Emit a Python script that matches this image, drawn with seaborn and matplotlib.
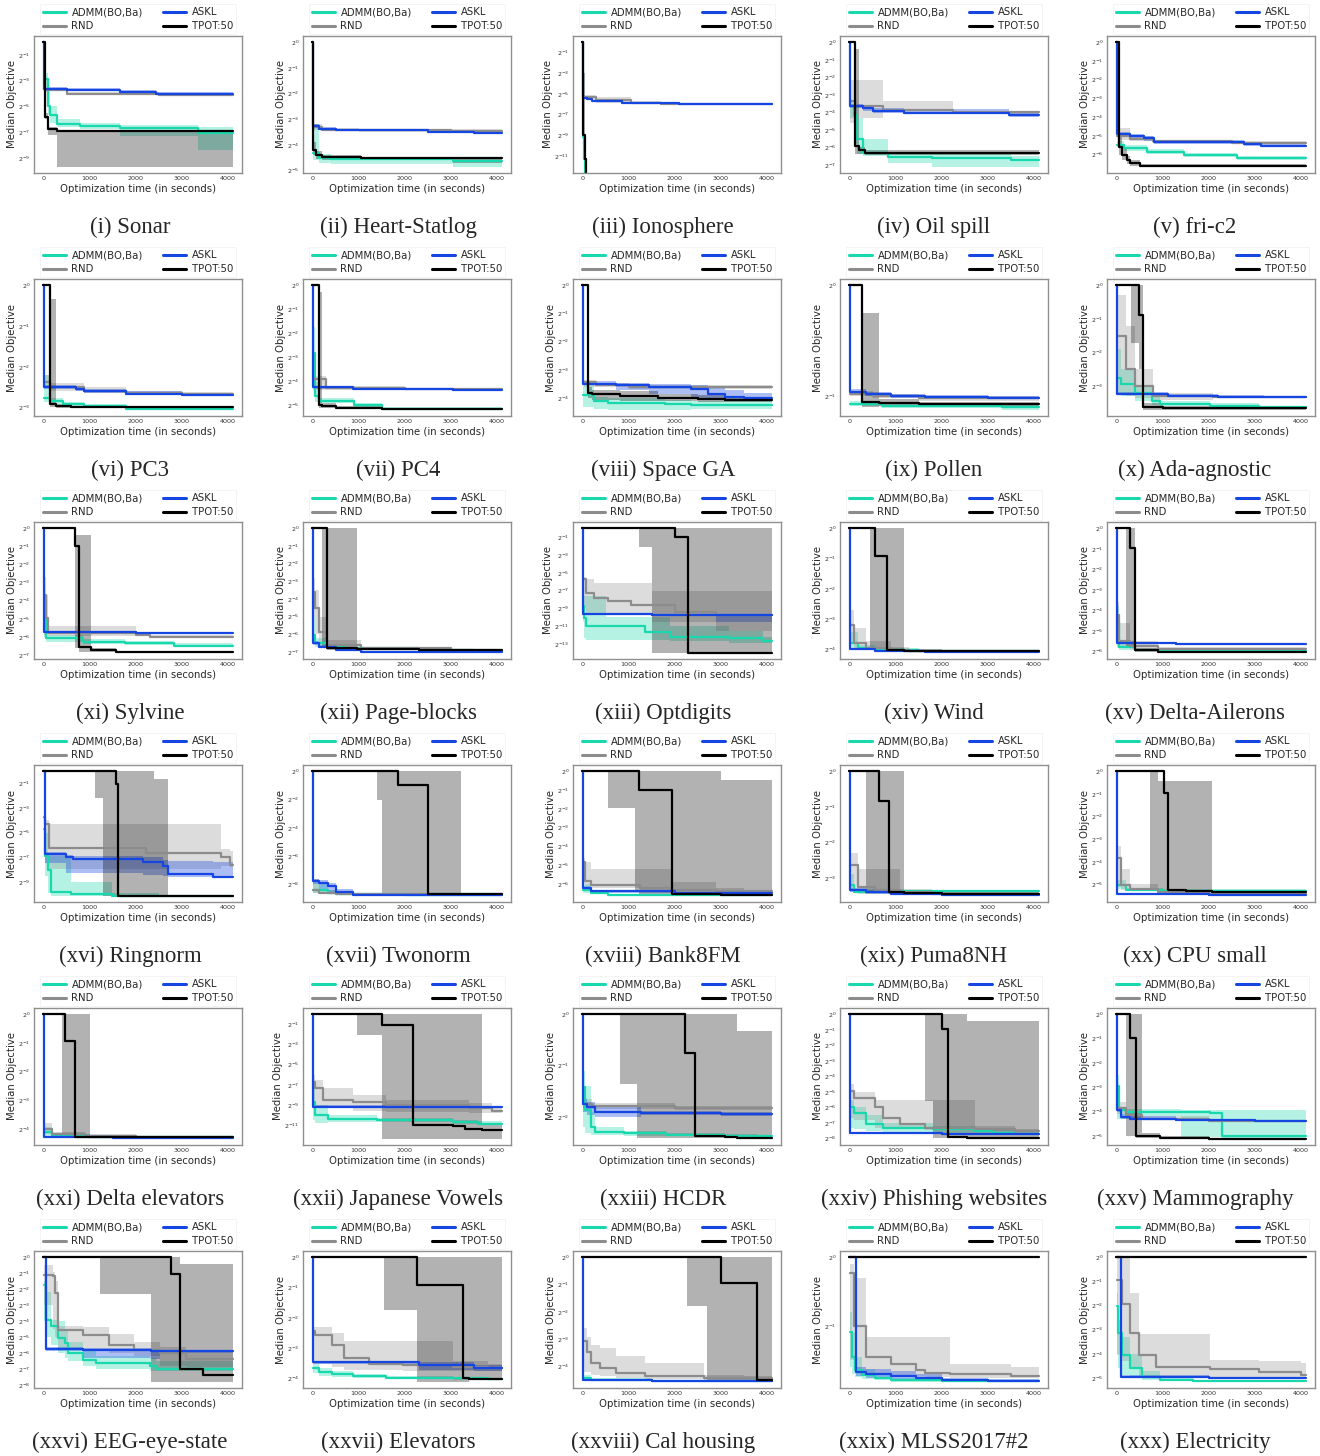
import numpy as np
import matplotlib
matplotlib.use("Agg")
import matplotlib.pyplot as plt
from matplotlib.lines import Line2D
from matplotlib.ticker import FixedLocator, FixedFormatter, NullLocator
import seaborn as sns

# ---------------------------------------------------------------------------
# Data: each series is a list of change points [time_s, median, lo, hi]
# (values are log2 of the objective; a 2-element row means no band).
# PERFECT marks an objective of 0 (drawn below the visible range).
# ---------------------------------------------------------------------------
END = 4100
PERFECT = -40
SERIES = ["ADMM(BO,Ba)", "RND", "ASKL", "TPOT:50"]

CAPTIONS = ["(i) Sonar", "(ii) Heart-Statlog", "(iii) Ionosphere", "(iv) Oil spill", "(v) fri-c2",
            "(vi) PC3", "(vii) PC4", "(viii) Space GA", "(ix) Pollen", "(x) Ada-agnostic",
            "(xi) Sylvine", "(xii) Page-blocks", "(xiii) Optdigits", "(xiv) Wind", "(xv) Delta-Ailerons",
            "(xvi) Ringnorm", "(xvii) Twonorm", "(xviii) Bank8FM", "(xix) Puma8NH", "(xx) CPU small",
            "(xxi) Delta elevators", "(xxii) Japanese Vowels", "(xxiii) HCDR", "(xxiv) Phishing websites",
            "(xxv) Mammography", "(xxvi) EEG-eye-state", "(xxvii) Elevators", "(xxviii) Cal housing",
            "(xxix) MLSS2017#2", "(xxx) Electricity"]

Y_TICK_EXPONENTS = [
    [-1, -3, -5, -7, -9], [0, -1, -2, -3, -4, -5], [-1, -3, -5, -7, -9, -11], [0, -1, -2, -3, -4, -5, -6, -7], [0, -1, -2, -3, -4, -5, -6],
    [0, -1, -2, -3], [0, -1, -2, -3, -4, -5], [0, -1, -2, -3, -4], [0, -1], [0, -1, -2, -3],
    [0, -1, -2, -3, -4, -5, -6, -7], [0, -1, -2, -3, -4, -5, -6, -7], [-1, -3, -5, -7, -9, -11, -13], [0, -1, -2, -3, -4], [0, -1, -2, -3, -4, -5, -6],
    [-1, -3, -5, -7, -9], [0, -2, -4, -6, -8], [0, -1, -2, -3, -4, -5, -6], [0, -1, -2, -3], [0, -1, -2, -3, -4, -5],
    [0, -1, -2, -3, -4], [-1, -3, -5, -7, -9, -11], [0, -1, -2], [0, -1, -2, -3, -4, -5, -6, -7, -8], [0, -1, -2, -3, -4, -5],
    [0, -1, -2, -3, -4, -5, -6, -7, -8], [0, -1, -2, -3, -4], [0, -1, -2, -3, -4], [0, -1], [0, -1, -2, -3, -4, -5],
]

# (i) Sonar
SONAR_ADMM = [[40, -2.85, -3.5, -2.4], [90, -5.0, -5.7, -3.5], [140, -5.7, -6.3, -5.0], [300, -6.35, -6.6, -6.0],
              [800, -6.55, -6.75, -6.3], [1650, -6.7, -7.3, -6.45], [3350, -7.1, -8.4, -6.6]]
SONAR_RND = [[40, -3.7, -3.8, -3.55], [500, -4.0, -4.1, -3.85], [2500, -4.1, -4.2, -3.95]]
SONAR_ASKL = [[0, 0], [5, -3.62, -3.72, -3.5], [500, -3.72, -3.82, -3.6], [1650, -3.85, -3.95, -3.72], [2450, -4.0, -4.1, -3.85]]
SONAR_TPOT = [[0, 0], [40, -5.85, -6.0, -5.5], [100, -6.75, -7.2, -6.6], [300, -6.9, -9.7, -6.8]]
# (ii) Heart-Statlog
HEART_ADMM = [[20, -4.3, -4.6, -3.2], [150, -4.5, -4.7, -4.35], [400, -4.55, -4.75, -4.45], [3050, -4.62, -4.85, -4.5]]
HEART_RND = [[15, -3.3, -3.4, -3.2], [200, -3.4, -3.45, -3.33], [1000, -3.42, -3.48, -3.36], [3000, -3.45, -3.5, -3.38]]
HEART_ASKL = [[0, 0], [10, -3.28, -3.35, -3.2], [150, -3.37, -3.42, -3.3], [500, -3.43, -3.47, -3.38], [2500, -3.48, -3.52, -3.43], [3500, -3.52, -3.55, -3.47]]
HEART_TPOT = [[0, 0], [20, -4.2, -4.4, -3.9], [80, -4.4, -4.55, -4.25], [200, -4.47, -4.6, -4.4], [1050, -4.5, -4.55, -4.45], [3050, -4.5, -4.7, -4.45]]
# (iii) Ionosphere
IONO_ADMM = [[5, -9.2, -10.0, -8.5], [25, -11.3, -12.05, -9.5], [55, PERFECT]]
IONO_RND = [[10, -5.3, -5.5, -5.1], [300, -5.6, -5.9, -5.3], [1050, -5.85, -6.0, -5.7], [1700, -5.97, -6.05, -5.9]]
IONO_ASKL = [[0, 0], [5, -5.37, -5.5, -5.25], [100, -5.5, -5.6, -5.4], [200, -5.65, -5.75, -5.55], [850, -5.84, -5.95, -5.75], [2100, -5.97, -6.05, -5.9]]
IONO_TPOT = [[0, 0], [20, -9.0, -10.0, -3.0], [50, -11.3, -12.05, -9.0], [80, PERFECT]]
# (iv) Oil spill
OIL_ADMM = [[20, -3.65, -4.3, -3.3], [90, -4.15, -5.8, -3.6], [160, -5.5, -6.4, -4.3], [300, -6.3, -6.5, -5.5],
            [830, -6.55, -6.9, -6.35], [1800, -6.6, -7.1, -6.4], [3500, -6.7, -7.1, -6.5]]
OIL_RND = [[20, -3.37, -4.6, -2.13], [150, -3.66, -4.3, -2.13], [730, -3.85, -3.94, -3.37], [2250, -4.0, -4.08, -3.9]]
OIL_ASKL = [[0, 0], [5, -3.62, -3.75, -3.5], [300, -3.75, -3.9, -3.6], [500, -3.94, -4.05, -3.75], [1190, -4.04, -4.12, -3.8], [3450, -4.17, -4.25, -4.05]]
OIL_TPOT = [[0, 0], [127, -5.94, -6.4, -0.4], [200, -6.13, -6.4, -6.0], [340, -6.29, -6.45, -6.15]]
# (v) fri-c2
FRI_ADMM = [[10, -5.48, -5.6, -5.3], [160, -5.66, -5.8, -5.5], [670, -5.84, -5.95, -5.7], [1460, -6.02, -6.12, -5.9], [2620, -6.2, -6.28, -6.08]]
FRI_RND = [[10, -5.0, -5.2, -4.6], [300, -5.15, -5.3, -5.0], [800, -5.3, -5.4, -5.2], [2500, -5.4, -5.45, -5.3]]
FRI_ASKL = [[0, 0], [10, -4.89, -5.0, -4.8], [300, -5.0, -5.15, -4.9], [600, -5.13, -5.3, -5.0], [810, -5.34, -5.45, -5.2],
            [2770, -5.45, -5.55, -5.35], [3130, -5.54, -5.6, -5.45]]
FRI_TPOT = [[0, 0], [50, -5.57, -6.0, -5.0], [120, -6.0, -6.3, -5.7], [230, -6.29, -6.5, -6.1], [300, -6.46, -6.62, -6.3], [520, -6.6, -6.65, -6.5]]
# (vi) PC3
PC3_ADMM = [[20, -2.75, -2.85, -2.2], [150, -2.83, -2.9, -2.75], [420, -2.91, -2.95, -2.87], [870, -2.95, -3.0, -2.92], [1780, -3.03, -3.05, -3.0]]
PC3_RND = [[20, -2.38, -2.5, -2.2], [150, -2.5, -2.58, -2.4], [870, -2.58, -2.64, -2.5], [1780, -2.64, -2.68, -2.58], [3000, -2.66, -2.7, -2.62]]
PC3_ASKL = [[0, 0], [10, -2.5, -2.55, -2.45], [700, -2.54, -2.6, -2.48], [870, -2.6, -2.65, -2.55], [1780, -2.66, -2.7, -2.6], [3000, -2.69, -2.72, -2.64]]
PC3_TPOT = [[0, 0], [150, -2.91, -2.98, -0.33], [280, -2.95, -3.0, -2.9], [600, -2.98, -3.01, -2.95]]
# (vii) PC4
PC4_ADMM = [[20, -2.8, -4.0, -1.75], [60, -4.6, -4.85, -4.0], [150, -4.8, -4.9, -4.7], [900, -4.97, -5.05, -4.9], [1500, -5.12, -5.16, -5.05]]
PC4_RND = [[20, -3.9, -4.35, -3.75], [300, -4.27, -4.33, -4.2], [2000, -4.3, -4.35, -4.25]]
PC4_ASKL = [[0, 0], [15, -4.24, -4.3, -4.18], [870, -4.31, -4.36, -4.26], [3050, -4.36, -4.4, -4.3]]
PC4_TPOT = [[0, 0], [150, -4.97, -5.1, -0.3], [200, -5.0, -5.1, -4.9], [500, -5.1, -5.15, -5.0], [1500, -5.15, -5.17, -5.1]]
# (viii) Space GA
SPACE_ADMM = [[20, -3.9, -4.3, -3.5], [250, -4.1, -4.4, -3.95], [550, -4.16, -4.41, -4.0], [1800, -4.2, -4.41, -4.05], [2360, -4.24, -4.4, -4.1]]
SPACE_RND = [[30, -3.43, -3.6, -3.35], [300, -3.55, -3.62, -3.45], [1000, -3.6, -3.66, -3.55]]
SPACE_ASKL = [[0, 0], [10, -3.49, -3.55, -3.4], [730, -3.55, -3.7, -3.45], [1450, -3.61, -3.85, -3.5], [2360, -3.67, -4.0, -3.55],
              [2730, -3.86, -4.05, -3.6], [3090, -3.95, -4.05, -3.7], [3500, -4.0, -4.05, -3.8]]
SPACE_TPOT = [[0, 0], [130, -3.8, -4.0, -3.6], [200, -3.86, -4.05, -3.7], [820, -3.92, -4.1, -3.75], [1640, -3.98, -4.1, -3.85],
              [2500, -4.04, -4.12, -3.9], [3100, -4.07, -4.15, -3.95]]
# (ix) Pollen
POLLEN_ADMM = [[10, -1.07, -1.09, -1.04], [700, -1.09, -1.11, -1.07], [3300, -1.1, -1.123, -1.08]]
POLLEN_RND = [[10, -0.98, -1.0, -0.95], [500, -1.0, -1.02, -0.98], [1500, -1.02, -1.04, -1.0]]
POLLEN_ASKL = [[0, 0], [5, -0.96, -0.98, -0.94], [360, -0.98, -1.0, -0.96], [900, -1.0, -1.02, -0.98], [1640, -1.01, -1.03, -0.99], [3000, -1.02, -1.03, -1.0]]
POLLEN_TPOT = [[0, 0], [270, -1.05, -1.1, -0.25], [640, -1.06, -1.09, -1.03], [1500, -1.07, -1.09, -1.05]]
# (x) Ada-agnostic
ADA_ADMM = [[10, -2.75, -3.2, -1.9], [100, -2.94, -3.3, -2.5], [400, -3.19, -3.45, -3.0], [760, -3.43, -3.55, -3.3],
            [950, -3.53, -3.6, -3.45], [2020, -3.58, -3.63, -3.5], [3100, -3.63, -3.66, -3.58]]
ADA_RND = [[10, -1.5, -3.2, -0.3], [200, -2.5, -3.3, -1.2], [400, -3.0, -3.35, -2.5], [800, -3.3, -3.4, -3.2], [2100, -3.33, -3.36, -3.3]]
ADA_ASKL = [[0, 0], [5, -3.22, -3.26, -3.18], [1120, -3.28, -3.32, -3.24], [2200, -3.31, -3.35, -3.27], [3200, -3.33, -3.36, -3.3]]
ADA_TPOT = [[0, 0], [310, 0, -1.72, 0], [490, -0.88, -2.5, 0], [580, -3.63, -3.7, -3.5], [1000, -3.65, -3.7, -3.6]]
# (xi) Sylvine
SYL_ADMM = [[20, -4.8, -6.0, -3.8], [60, -6.08, -6.25, -5.9], [860, -6.26, -6.4, -6.1], [1760, -6.35, -6.45, -6.2], [2840, -6.5, -6.55, -6.35]]
SYL_RND = [[20, -3.68, -5.9, -2.7], [60, -4.97, -5.9, -3.7], [100, -5.8, -5.95, -5.4], [2000, -5.9, -5.95, -5.8], [2300, -6.0, -6.05, -5.9]]
SYL_ASKL = [[0, 0], [5, -5.75, -5.8, -5.7], [2000, -5.78, -5.82, -5.74], [3500, -5.8, -5.83, -5.76]]
SYL_TPOT = [[0, 0], [680, -1.0, -6.6, -0.37], [770, -6.55, -6.8, -0.37], [1040, -6.7, -6.82, -6.6], [1580, -6.81, -6.84, -6.75], [2500, -6.85, -6.87, -6.8]]
# (xii) Page-blocks
PAGE_ADMM = [[10, -6.05, -6.5, -5.0], [60, -6.52, -6.7, -6.2], [325, -6.71, -6.85, -6.6], [700, -6.8, -6.9, -6.7], [2300, -6.9, -6.95, -6.85], [3500, -6.96, -7.0, -6.9]]
PAGE_RND = [[10, -3.6, -5.0, -2.8], [60, -4.5, -6.0, -3.5], [150, -5.86, -6.6, -5.0], [325, -6.62, -6.8, -6.3], [1050, -6.8, -6.9, -6.7], [3000, -6.9, -6.95, -6.85]]
PAGE_ASKL = [[0, 0], [5, -6.52, -6.6, -6.4], [150, -6.71, -6.8, -6.6], [500, -6.9, -6.95, -6.8], [1050, -7.0, -7.03, -6.95], [3000, -7.03, -7.05, -7.0]]
PAGE_TPOT = [[0, 0], [200, 0, -6.8, 0], [325, -6.8, -6.9, 0], [960, -6.84, -6.9, -6.75], [2300, -6.9, -6.93, -6.85]]
# (xiii) Optdigits
OPT_ADMM = [[5, -8.75, -10.5, -7.0], [40, -10.1, -12.3, -7.6], [70, -11.0, -12.55, -7.6], [520, -11.0, -12.55, -9.9], [1350, -11.6, -12.55, -9.9],
            [1900, -12.2, -12.6, -11.0], [3180, -12.3, -12.8, -11.5], [3910, -12.6, -12.8, -12.2]]
OPT_RND = [[35, -5.73, -9.1, -5.5], [70, -7.25, -9.7, -5.7], [250, -7.8, -9.7, -6.1], [550, -8.1, -9.7, -6.1], [1060, -8.6, -9.7, -6.1],
           [1500, -8.6, -10.47, -7.06], [2010, -9.4, -10.47, -7.06], [2890, -9.7, -11.5, -7.06]]
OPT_ASKL = [[0, 0], [10, -9.64, -9.75, -9.5], [1500, -9.7, -9.8, -9.6], [2900, -9.7, -10.47, -9.6]]
OPT_TPOT = [[0, 0], [1230, 0, -2.06, 0], [1500, 0, -13.95, 0], [2010, -1.0, -13.95, 0], [2280, -13.95, -13.95, 0]]
# (xiv) Wind
WIND_ADMM = [[10, -3.78, -3.95, -3.4], [180, -3.94, -4.0, -3.85], [545, -4.0, -4.04, -3.95], [1500, -4.05, -4.08, -4.0]]
WIND_RND = [[10, -3.2, -3.8, -2.7], [90, -3.78, -3.95, -3.3], [360, -3.94, -4.0, -3.7], [900, -4.0, -4.04, -3.9], [1300, -4.04, -4.06, -4.0]]
WIND_ASKL = [[0, 0], [5, -3.98, -4.02, -3.94], [545, -4.03, -4.06, -4.0], [1640, -4.09, -4.1, -4.05]]
WIND_TPOT = [[0, 0], [450, 0, -4.0, 0], [545, -0.91, -4.0, 0], [820, -4.0, -4.05, 0], [1180, -4.03, -4.06, -3.98], [2000, -4.05, -4.07, -4.0]]
# (xv) Delta-Ailerons
DAIL_ADMM = [[10, -4.54, -5.8, -3.8], [60, -5.75, -5.9, -5.5], [400, -5.92, -5.97, -5.85], [1300, -5.97, -6.0, -5.93]]
DAIL_RND = [[10, -4.2, -5.6, -3.6], [60, -5.5, -5.8, -4.6], [300, -5.7, -5.85, -5.5], [900, -5.85, -5.9, -5.75]]
DAIL_ASKL = [[0, 0], [5, -5.56, -5.6, -5.52], [1300, -5.6, -5.63, -5.56], [3000, -5.62, -5.65, -5.58]]
DAIL_TPOT = [[0, 0], [200, 0, -5.84, 0], [300, -0.97, -5.84, 0], [400, -5.92, -6.0, -5.8], [900, -6.0, -6.03, -5.95], [2000, -6.03, -6.05, -6.0]]
# (xvi) Ringnorm
RING_ADMM = [[5, -4.7, -7.0, -3.5], [40, -6.9, -8.5, -5.0], [100, -8.0, -9.9, -6.9], [170, -9.86, -10.13, -6.9],
             [590, -10.0, -10.13, -9.05], [1480, -10.13, -10.13, -9.9], [2500, -10.13]]
RING_RND = [[5, -3.76, -6.0, -3.5], [40, -4.3, -7.5, -4.0], [130, -6.28, -7.96, -4.3], [2230, -6.66, -7.96, -4.3],
            [3860, -7.0, -7.7, -6.3], [4050, -7.64, -7.8, -6.5]]
RING_ASKL = [[0, 0], [40, -6.75, -7.5, -6.6], [490, -7.0, -8.3, -6.8], [640, -7.15, -8.3, -6.9], [2150, -7.42, -8.4, -7.0],
             [2590, -7.7, -8.5, -7.2], [2700, -8.37, -8.6, -7.3], [3670, -8.64, -8.7, -7.4]]
RING_TPOT = [[0, 0], [1110, 0, -2.14, 0], [1290, 0, -10.13, 0], [1580, -1.05, -10.13, 0], [1620, -10.13, -10.13, 0],
             [2390, -10.13, -10.13, -0.65], [2700, -10.13]]
# (xvii) Twonorm
TWO_ADMM = [[10, -8.37, -8.6, -7.8], [330, -8.6, -8.7, -8.4], [500, -8.68, -8.73, -8.6], [2000, -8.73, -8.76, -8.7]]
TWO_RND = [[10, -8.37, -8.6, -7.6], [150, -8.6, -8.7, -8.4], [500, -8.68, -8.72, -8.62]]
TWO_ASKL = [[0, 0], [5, -7.78, -8.0, -7.6], [150, -7.9, -8.3, -7.7], [330, -8.14, -8.5, -7.9], [500, -8.5, -8.7, -8.3],
            [870, -8.73, -8.76, -8.7], [2000, -8.77, -8.8, -8.74]]
TWO_TPOT = [[0, 0], [1400, 0, -2.0, 0], [1500, 0, -8.7, 0], [1865, -1.0, -8.7, 0], [2500, -8.68, -8.7, 0], [3220, -8.68]]
# (xviii) Bank8FM
BANK_ADMM = [[10, -6.3, -6.45, -6.0], [180, -6.48, -6.55, -6.4], [550, -6.57, -6.6, -6.5], [2000, -6.6, -6.62, -6.57]]
BANK_RND = [[10, -4.8, -6.0, -4.6], [60, -5.86, -6.1, -4.8], [180, -6.04, -6.2, -5.2], [1250, -6.2, -6.35, -5.2],
            [1950, -6.3, -6.4, -5.9], [2900, -6.36, -6.45, -6.2], [3500, -6.39, -6.45, -6.3]]
BANK_ASKL = [[0, 0], [5, -6.2, -6.3, -6.1], [180, -6.39, -6.45, -6.3], [2000, -6.48, -6.52, -6.42]]
BANK_TPOT = [[0, 0], [550, 0, -1.95, 0], [1150, 0, -6.3, 0], [1220, -1.0, -6.5, 0], [1945, -6.53, -6.6, 0],
             [3000, -6.57, -6.6, -0.45], [3500, -6.6, -6.62, -0.45]]
# (xix) Puma8NH
PUMA_ADMM = [[10, -3.2, -3.38, -2.9], [90, -3.38, -3.42, -3.3], [1000, -3.37, -3.4, -3.33]]
PUMA_RND = [[10, -2.64, -3.3, -2.3], [180, -3.25, -3.44, -2.74], [550, -3.33, -3.44, -2.74], [1100, -3.4, -3.45, -3.3], [1800, -3.44, -3.46, -3.4]]
PUMA_ASKL = [[0, 0], [5, -3.33, -3.38, -3.28], [360, -3.4, -3.45, -3.35], [900, -3.45, -3.48, -3.4], [2000, -3.49, -3.5, -3.45]]
PUMA_TPOT = [[0, 0], [360, 0, -3.4, 0], [635, -0.85, -3.4, 0], [850, -3.4, -3.44, 0], [1180, -3.42, -3.45, -3.38], [2000, -3.44, -3.46, -3.4]]
# (xx) CPU small
CPU_ADMM = [[10, -5.03, -5.2, -4.8], [200, -5.25, -5.3, -5.15], [1000, -5.28, -5.32, -5.22]]
CPU_RND = [[10, -3.85, -5.1, -3.3], [90, -5.03, -5.25, -4.3], [300, -5.18, -5.3, -5.0], [900, -5.33, -5.38, -5.25], [2000, -5.4, -5.43, -5.35]]
CPU_ASKL = [[0, 0], [5, -5.44, -5.47, -5.4], [2000, -5.47, -5.5, -5.43]]
CPU_TPOT = [[0, 0], [720, 0, -5.3, 0], [900, 0, -5.3, -0.44], [1030, -0.96, -5.3, -0.44], [1120, -5.25, -5.3, -0.44],
            [1500, -5.3, -5.35, -0.44], [2080, -5.33, -5.36, -5.3]]
# (xxi) Delta elevators
DELV_ADMM = [[10, -4.13, -4.25, -3.95], [180, -4.24, -4.28, -4.18], [1000, -4.28, -4.3, -4.25]]
DELV_RND = [[10, -4.01, -4.2, -3.8], [180, -4.18, -4.25, -4.1], [900, -4.24, -4.28, -4.2], [2000, -4.28, -4.3, -4.25]]
DELV_ASKL = [[0, 0], [5, -4.28, -4.32, -4.24], [1500, -4.33, -4.35, -4.3]]
DELV_TPOT = [[0, 0], [410, 0, -4.28, 0], [470, -0.95, -4.28, 0], [680, -4.28, -4.3, 0], [1000, -4.28, -4.3, -4.25], [2000, -4.3, -4.32, -4.27]]
# (xxii) Japanese Vowels
JV_ADMM = [[10, -8.67, -10.5, -7.0], [50, -10.0, -10.8, -9.0], [330, -10.33, -10.7, -10.0], [1410, -10.5, -10.7, -10.3],
           [3040, -10.67, -10.85, -10.5], [3580, -10.83, -11.0, -10.6]]
JV_RND = [[10, -6.67, -9.0, -6.0], [60, -7.33, -9.3, -6.5], [235, -8.5, -9.3, -7.3], [870, -8.67, -9.6, -8.0],
          [1600, -9.0, -9.7, -8.5], [3400, -9.33, -9.8, -8.8], [3900, -9.6, -9.8, -9.2]]
JV_ASKL = [[0, 0], [5, -9.17, -9.3, -9.0], [2000, -9.17, -9.3, -9.05]]
JV_TPOT = [[0, 0], [960, 0, -2.07, 0], [1500, -1.07, -12.33, 0], [2170, -10.93, -12.33, 0], [3040, -11.07, -12.33, 0],
           [3310, -11.33, -12.33, 0], [3680, -11.43, -12.33, -10.9]]
# (xxiii) HCDR
HCDR_ADMM = [[10, -1.42, -2.2, -1.1], [50, -1.87, -2.3, -1.4], [180, -2.19, -2.35, -1.9], [270, -2.29, -2.35, -2.2],
             [900, -2.31, -2.36, -2.27], [1820, -2.34, -2.37, -2.3], [3100, -2.36, -2.38, -2.33], [3800, -2.37, -2.39, -2.35]]
HCDR_RND = [[10, -1.74, -1.85, -1.65], [200, -1.78, -1.85, -1.72], [2000, -1.82, -1.87, -1.78]]
HCDR_ASKL = [[0, 0], [5, -1.74, -1.9, -1.65], [100, -1.81, -1.95, -1.7], [270, -1.9, -2.0, -1.8], [1280, -1.92, -1.96, -1.88], [3000, -1.94, -1.97, -1.9]]
HCDR_TPOT = [[0, 0], [820, 0, -1.35, 0], [1180, 0, -2.4, 0], [2220, -0.75, -2.4, 0], [2450, -2.37, -2.4, 0],
             [3100, -2.38, -2.41, 0], [3360, -2.4, -2.42, -0.32]]
# (xxiv) Phishing websites
PHISH_ADMM = [[10, -6.0, -7.3, -5.5], [90, -6.34, -7.4, -6.0], [360, -7.1, -7.5, -6.5], [730, -7.31, -7.6, -7.0],
              [1820, -7.42, -7.62, -7.2], [2730, -7.5, -7.65, -7.3], [3100, -7.63, -7.7, -7.4], [3600, -7.74, -7.8, -7.5]]
PHISH_RND = [[10, -4.95, -6.67, -4.5], [90, -5.4, -6.8, -5.0], [550, -6.0, -7.3, -5.55], [730, -6.67, -7.31, -5.55],
             [1090, -7.1, -7.4, -5.55], [1640, -7.31, -7.45, -5.55], [2730, -7.42, -7.5, -7.2], [3600, -7.5, -7.55, -7.4]]
PHISH_ASKL = [[0, 0], [5, -7.63, -7.66, -7.6], [2000, -7.7, -7.73, -7.66]]
PHISH_TPOT = [[0, 0], [1640, 0, -5.6, 0], [1820, 0, -8.0, 0], [2000, -0.97, -8.0, 0], [2130, -7.91, -8.0, 0],
              [2540, -7.95, -8.0, -0.43], [3000, -8.0, -8.02, -0.43]]
# (xxv) Mammography
MAMMO_ADMM = [[10, -2.95, -4.3, -2.5], [60, -3.94, -4.3, -3.8], [200, -4.01, -4.2, -3.9], [1400, -4.01, -5.05, -3.95],
              [2020, -4.04, -5.05, -3.95], [2290, -5.0, -5.07, -3.95]]
MAMMO_RND = [[10, -3.87, -4.1, -3.6], [200, -4.15, -4.25, -4.0], [560, -4.3, -4.35, -4.2], [2000, -4.37, -4.4, -4.33]]
MAMMO_ASKL = [[0, 0], [5, -3.94, -4.0, -3.85], [100, -4.22, -4.3, -4.1], [300, -4.3, -4.35, -4.2], [1300, -4.35, -4.4, -4.3], [3000, -4.4, -4.43, -4.35]]
MAMMO_TPOT = [[0, 0], [200, 0, -5.0, 0], [300, -0.98, -5.0, 0], [430, -5.0, -5.07, 0], [560, -5.0, -5.07, -4.9],
              [940, -5.07, -5.1, -5.0], [2000, -5.11, -5.12, -5.07]]
# (xxvi) EEG-eye-state
EEG_ADMM = [[5, -1.73, -4.0, -1.5], [60, -3.92, -5.0, -2.2], [170, -4.33, -5.5, -3.9], [310, -5.06, -6.0, -4.0], [460, -5.38, -6.3, -4.5],
            [530, -6.0, -6.5, -5.3], [850, -6.42, -6.8, -5.8], [1140, -6.63, -7.0, -6.2], [2300, -6.83, -7.1, -6.3], [2450, -7.0, -7.15, -6.5]]
EEG_RND = [[5, -1.1, -3.0, -0.5], [200, -1.2, -4.5, -0.9], [240, -2.25, -5.0, -1.5], [310, -4.54, -5.8, -4.3], [850, -4.85, -5.9, -4.4],
           [1430, -5.48, -6.0, -4.8], [1970, -5.79, -6.2, -5.3], [2520, -6.0, -6.8, -5.6], [3100, -6.35, -6.9, -6.0]]
EEG_ASKL = [[0, 0], [50, -5.75, -5.85, -5.65], [850, -5.8, -6.3, -5.7], [2340, -5.85, -6.35, -5.75], [2520, -5.9, -6.0, -5.8]]
EEG_TPOT = [[0, 0], [1230, 0, -2.3, 0], [2340, 0, -7.8, 0], [2770, -1.04, -7.8, 0], [2950, -7.0, -7.8, -0.4], [3460, -7.4, -7.8, -0.4]]
# (xxvii) Elevators
ELEV_ADMM = [[10, -3.66, -3.8, -3.5], [150, -3.78, -3.9, -3.65], [420, -3.85, -3.95, -3.75], [870, -3.91, -3.98, -3.85],
             [1600, -3.97, -4.02, -3.9], [3050, -3.99, -4.03, -3.94], [3800, -4.02, -4.05, -3.97]]
ELEV_RND = [[10, -2.43, -3.5, -2.3], [60, -2.55, -3.5, -2.3], [420, -2.88, -3.6, -2.5], [690, -3.33, -3.7, -2.75], [1230, -3.5, -3.7, -2.75],
            [1960, -3.55, -3.75, -2.75], [3050, -3.6, -3.75, -3.4], [3800, -3.64, -3.75, -3.5]]
ELEV_ASKL = [[0, 0], [5, -3.46, -3.52, -3.4], [2320, -3.55, -3.7, -3.45], [3500, -3.64, -3.75, -3.55]]
ELEV_TPOT = [[0, 0], [1560, 0, -1.75, 0], [2270, -0.93, -4.1, 0], [3260, -3.98, -4.1, 0], [3400, -4.0, -4.05, 0]]
# (xxviii) Cal housing
CAL_ADMM = [[10, -4.42, -4.5, -4.3], [180, -4.48, -4.52, -4.42], [1500, -4.52, -4.54, -4.48]]
CAL_RND = [[10, -3.05, -4.2, -2.6], [90, -3.45, -4.2, -2.9], [180, -3.85, -4.3, -3.2], [370, -4.05, -4.35, -3.3], [730, -4.23, -4.4, -3.6],
           [1360, -4.35, -4.45, -3.85], [2640, -4.4, -4.48, -4.3], [3500, -4.42, -4.48, -4.35]]
CAL_ASKL = [[0, 0], [5, -4.48, -4.52, -4.44], [1500, -4.52, -4.55, -4.48]]
CAL_TPOT = [[0, 0], [2270, 0, -1.8, 0], [2690, 0, -4.5, 0], [3000, -0.95, -4.5, 0], [3780, -4.5, -4.52, 0]]
# (xxix) MLSS2017#2
MLSS_ADMM = [[5, -1.08, -1.6, -0.8], [50, -1.45, -1.7, -1.1], [110, -1.64, -1.74, -1.45], [270, -1.71, -1.77, -1.62],
             [550, -1.75, -1.79, -1.7], [900, -1.79, -1.81, -1.75], [2000, -1.8, -1.81, -1.78]]
MLSS_RND = [[5, -0.23, -1.5, -0.1], [90, -1.0, -1.65, -0.3], [360, -1.45, -1.7, -1.16], [900, -1.55, -1.72, -1.16], [1450, -1.64, -1.73, -1.16],
            [1640, -1.68, -1.74, -1.16], [2180, -1.7, -1.75, -1.55], [3500, -1.73, -1.76, -1.6]]
MLSS_ASKL = [[0, 0], [145, -1.67, -1.72, -1.6], [360, -1.7, -1.75, -1.62], [900, -1.73, -1.77, -1.66], [1450, -1.75, -1.78, -1.7],
             [2000, -1.78, -1.8, -1.75], [3000, -1.8, -1.81, -1.77]]
MLSS_TPOT = [[0, 0]]
# (xxx) Electricity
ELEC_ADMM = [[5, -2.0, -4.0, -1.5], [40, -3.14, -4.6, -2.6], [120, -4.05, -4.9, -3.3], [300, -4.6, -5.0, -4.0],
             [560, -4.95, -5.08, -4.7], [940, -5.08, -5.14, -4.95], [1650, -5.14, -5.16, -5.08]]
ELEC_RND = [[5, -0.95, -4.05, 0], [120, -1.93, -4.3, 0], [300, -3.14, -4.6, -1.5], [480, -4.05, -5.0, -3.2], [850, -4.54, -5.0, -3.2],
            [2020, -4.64, -5.0, -4.26], [3100, -4.76, -5.0, -4.3], [4000, -4.9, -5.0, -4.4]]
ELEC_ASKL = [[0, 0], [90, -4.97, -5.02, -4.9], [2000, -5.0, -5.03, -4.95]]
ELEC_TPOT = [[0, 0]]

PANEL_SERIES = [
    (SONAR_ADMM, SONAR_RND, SONAR_ASKL, SONAR_TPOT), (HEART_ADMM, HEART_RND, HEART_ASKL, HEART_TPOT),
    (IONO_ADMM, IONO_RND, IONO_ASKL, IONO_TPOT), (OIL_ADMM, OIL_RND, OIL_ASKL, OIL_TPOT), (FRI_ADMM, FRI_RND, FRI_ASKL, FRI_TPOT),
    (PC3_ADMM, PC3_RND, PC3_ASKL, PC3_TPOT), (PC4_ADMM, PC4_RND, PC4_ASKL, PC4_TPOT), (SPACE_ADMM, SPACE_RND, SPACE_ASKL, SPACE_TPOT),
    (POLLEN_ADMM, POLLEN_RND, POLLEN_ASKL, POLLEN_TPOT), (ADA_ADMM, ADA_RND, ADA_ASKL, ADA_TPOT),
    (SYL_ADMM, SYL_RND, SYL_ASKL, SYL_TPOT), (PAGE_ADMM, PAGE_RND, PAGE_ASKL, PAGE_TPOT), (OPT_ADMM, OPT_RND, OPT_ASKL, OPT_TPOT),
    (WIND_ADMM, WIND_RND, WIND_ASKL, WIND_TPOT), (DAIL_ADMM, DAIL_RND, DAIL_ASKL, DAIL_TPOT),
    (RING_ADMM, RING_RND, RING_ASKL, RING_TPOT), (TWO_ADMM, TWO_RND, TWO_ASKL, TWO_TPOT), (BANK_ADMM, BANK_RND, BANK_ASKL, BANK_TPOT),
    (PUMA_ADMM, PUMA_RND, PUMA_ASKL, PUMA_TPOT), (CPU_ADMM, CPU_RND, CPU_ASKL, CPU_TPOT),
    (DELV_ADMM, DELV_RND, DELV_ASKL, DELV_TPOT), (JV_ADMM, JV_RND, JV_ASKL, JV_TPOT), (HCDR_ADMM, HCDR_RND, HCDR_ASKL, HCDR_TPOT),
    (PHISH_ADMM, PHISH_RND, PHISH_ASKL, PHISH_TPOT), (MAMMO_ADMM, MAMMO_RND, MAMMO_ASKL, MAMMO_TPOT),
    (EEG_ADMM, EEG_RND, EEG_ASKL, EEG_TPOT), (ELEV_ADMM, ELEV_RND, ELEV_ASKL, ELEV_TPOT), (CAL_ADMM, CAL_RND, CAL_ASKL, CAL_TPOT),
    (MLSS_ADMM, MLSS_RND, MLSS_ASKL, MLSS_TPOT), (ELEC_ADMM, ELEC_RND, ELEC_ASKL, ELEC_TPOT),
]

# ---------------------------------------------------------------------------
# Styling
# ---------------------------------------------------------------------------
COLORS = ["#19d8ae", "#8c8c8c", "#1546e2", "#000000"]
BAND_ALPHA = [0.32, 0.3, 0.35, 0.3]
W, H = 1320, 1456
COL_LEFT = [34, 303, 573, 840, 1107]
CAPTION_X = [130, 398, 663, 934, 1195]
AX_W, AX_H, ROW_H, AX_TOP = 208, 137, 243, 36

sns.set_theme(style="white")
plt.rcParams["font.family"] = ["DejaVu Sans"]
plt.rcParams["mathtext.fontset"] = "dejavusans"


def expand(rows):
    t = np.array([r[0] for r in rows] + [END], dtype=float)
    m = [r[1] for r in rows]
    lo = [r[2] if len(r) > 2 else r[1] for r in rows]
    hi = [r[3] if len(r) > 2 else r[1] for r in rows]
    m, lo, hi = (np.array(v + [v[-1]], dtype=float) for v in (m, lo, hi))
    return t, m, lo, hi


fig = plt.figure(figsize=(W / 100, H / 100), dpi=100)

for i, series in enumerate(PANEL_SERIES):
    r, c = divmod(i, 5)
    top = AX_TOP + ROW_H * r
    ax = fig.add_axes([COL_LEFT[c] / W, 1 - (top + AX_H) / H, AX_W / W, AX_H / H])
    exps = []
    for k, rows in enumerate(series):
        t, m, lo, hi = expand(rows)
        exps += [v for v in np.concatenate([m, lo, hi]) if v > -30]
        if np.any(lo != hi):
            ax.fill_between(t, 2.0 ** lo, 2.0 ** hi, step="post", color=COLORS[k],
                            alpha=BAND_ALPHA[k], linewidth=0)
        sns.lineplot(x=t, y=2.0 ** m, ax=ax, color=COLORS[k], linewidth=1.6,
                     drawstyle="steps-post", estimator=None, sort=False, legend=False)
    ax.set_yscale("log", base=2)
    emin, emax = min(exps), max(exps)
    pad = 0.05 * (emax - emin)
    ax.set_ylim(2.0 ** (emin - pad), 2.0 ** (emax + pad))
    ax.set_xlim(-0.05 * END, 1.05 * END)
    ticks = Y_TICK_EXPONENTS[i]
    ax.yaxis.set_major_locator(FixedLocator([2.0 ** e for e in ticks]))
    ax.yaxis.set_major_formatter(FixedFormatter([r"$2^{%d}$" % e for e in ticks]))
    ax.yaxis.set_minor_locator(NullLocator())
    ax.set_xticks([0, 1000, 2000, 3000, 4000])
    ax.tick_params(axis="both", labelsize=4.6, length=1.5, width=0.5, pad=1.0,
                   colors="#555555", labelcolor="#333333")
    for s in ax.spines.values():
        s.set_color("#8f8f8f")
        s.set_linewidth(1.0)
    ax.set_xlabel("Optimization time (in seconds)", fontsize=7.3, labelpad=1.5)
    ax.set_ylabel("Median Objective", fontsize=7.3, labelpad=0.8)
    handles = [Line2D([], [], color=COLORS[k], lw=2.2) for k in range(4)]
    leg = ax.legend(handles, SERIES, loc="lower center", bbox_to_anchor=(0.5, 1.0), ncol=2,
                    fontsize=7.3, handlelength=2.3, handletextpad=0.55, columnspacing=2.0,
                    labelspacing=0.4, borderpad=0.3, borderaxespad=0.15, frameon=True,
                    fancybox=False)
    leg.get_frame().set_edgecolor("#f0f0f0")
    leg.get_frame().set_linewidth(0.6)
    fig.text(CAPTION_X[c] / W, 1 - (ROW_H * r + 233) / H, CAPTIONS[i], ha="center",
             va="baseline", fontsize=16.5, family=["Liberation Serif", "DejaVu Serif"])

fig.savefig("out.png", dpi=100)
